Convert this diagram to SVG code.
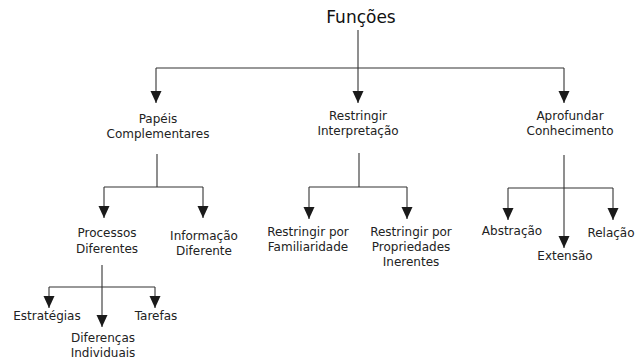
<svg xmlns="http://www.w3.org/2000/svg" width="644" height="363" viewBox="0 0 644 363">
<defs>
<marker id="arr" markerUnits="userSpaceOnUse" markerWidth="13" markerHeight="12" refX="12" refY="6" orient="auto" viewBox="0 0 13 12">
<path d="M0,0.5 L12,6 L0,11.5 Z" fill="#1a1a1a"/>
</marker>
</defs>
<style>
text{font-family:"DejaVu Sans","Liberation Sans",sans-serif;font-size:12px;fill:#222;text-anchor:middle}
.title{font-size:17px;fill:#111}
.c{fill:none;stroke:#333;stroke-width:1.1}
.a{marker-end:url(#arr)}
</style>
<rect width="644" height="363" fill="#fff"/>
<g id="connectors">
<path class="c" d="M156,68 H564"/>
<path class="c a" d="M358,30 V103"/>
<path class="c a" d="M156,68 V103"/>
<path class="c a" d="M564,68 V103"/>
<path class="c" d="M157,154 V187 M104,187 H203"/>
<path class="c a" d="M104,187 V218"/>
<path class="c a" d="M203,187 V218"/>
<path class="c" d="M359,153 V187 M309,187 H407"/>
<path class="c a" d="M309,187 V219"/>
<path class="c a" d="M407,187 V219"/>
<path class="c" d="M508,188 H613"/>
<path class="c a" d="M564,155 V248"/>
<path class="c a" d="M508,188 V220"/>
<path class="c a" d="M613,188 V220"/>
<path class="c" d="M49,287 H155"/>
<path class="c a" d="M102,265 V327"/>
<path class="c a" d="M49,287 V308"/>
<path class="c a" d="M155,287 V308"/>
</g>
<g id="funcoes"><text class="title" x="361" y="23">Funções</text></g>
<g id="papeis"><text x="158" y="123">Papéis</text><text x="158" y="138">Complementares</text></g>
<g id="restringir"><text x="358" y="120">Restringir</text><text x="358" y="135">Interpretação</text></g>
<g id="aprofundar"><text x="570" y="120">Aprofundar</text><text x="570" y="135">Conhecimento</text></g>
<g id="processos"><text x="107" y="237">Processos</text><text x="107" y="253">Diferentes</text></g>
<g id="informacao"><text x="204" y="240">Informação</text><text x="204" y="255">Diferente</text></g>
<g id="familiaridade"><text x="308" y="236">Restringir por</text><text x="308" y="251">Familiaridade</text></g>
<g id="propriedades"><text x="411" y="236">Restringir por</text><text x="411" y="251">Propriedades</text><text x="411" y="266">Inerentes</text></g>
<g id="abstracao"><text x="512" y="235">Abstração</text></g>
<g id="extensao"><text x="565" y="260">Extensão</text></g>
<g id="relacao"><text x="611" y="237">Relação</text></g>
<g id="estrategias"><text x="47" y="320">Estratégias</text></g>
<g id="tarefas"><text x="156" y="320">Tarefas</text></g>
<g id="diferencas"><text x="103" y="342">Diferenças</text><text x="103" y="357">Individuais</text></g>
</svg>
